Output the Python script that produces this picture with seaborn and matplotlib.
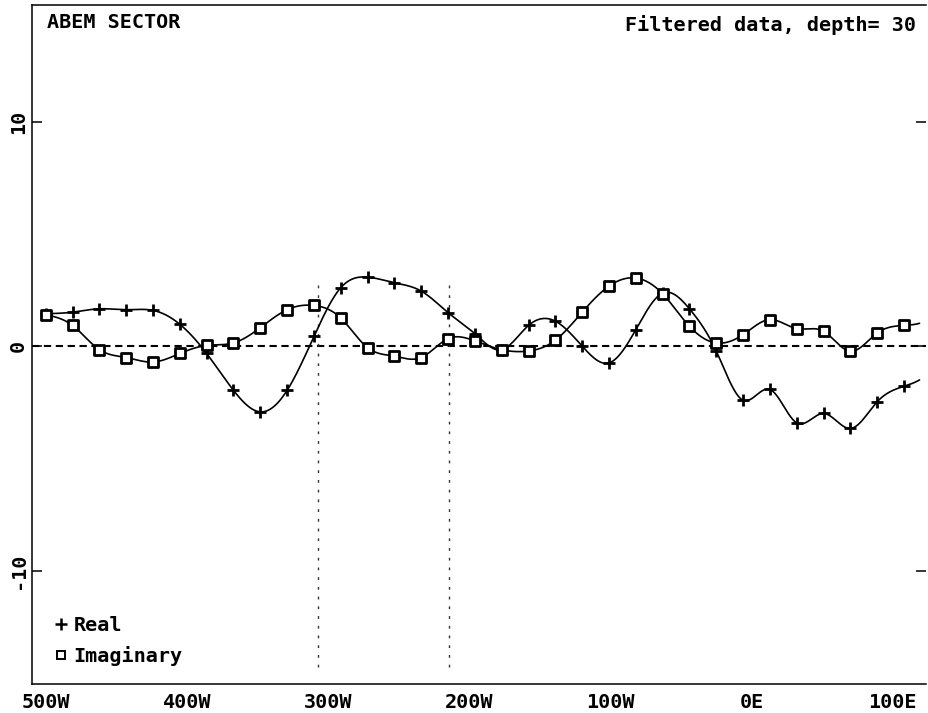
import numpy as np
import pandas as pd
import matplotlib
matplotlib.use("Agg")
import matplotlib.pyplot as plt
from matplotlib.ticker import MultipleLocator, FixedLocator
from matplotlib.lines import Line2D
import seaborn as sns

# station positions (W negative, E positive)
stations = [-500, -481, -462, -443, -424, -405, -386, -367, -348, -329, -310,
            -291, -272, -253, -234, -215, -196, -177, -158, -139, -120, -101,
            -82, -63, -44, -25, -6, 13, 32, 51, 70, 89, 108]

real = [1.45, 1.52, 1.67, 1.63, 1.60, 0.98, -0.32, -1.96, -2.92, -1.96, 0.44,
        2.61, 3.08, 2.83, 2.46, 1.50, 0.56, -0.15, 0.93, 1.12, 0.01, -0.74,
        0.74, 2.37, 1.67, -0.21, -2.40, -1.92, -3.41, -2.99, -3.66, -2.47, -1.78]

imag = [1.41, 0.93, -0.15, -0.50, -0.70, -0.32, 0.04, 0.15, 0.83, 1.63, 1.82,
        1.26, -0.06, -0.44, -0.50, 0.34, 0.24, -0.15, -0.21, 0.27, 1.52, 2.68,
        3.04, 2.34, 0.89, 0.15, 0.52, 1.19, 0.79, 0.67, -0.22, 0.59, 0.93]

xtick_pos = [-500, -400, -300, -200, -100, 0, 100]
xtick_labels = ["500W", "400W", "300W", "200W", "100W", "0E", "100E"]
ytick_pos = [-10, 0, 10]
ytick_labels = ["-10", "0", "10"]

# faint vertical marks on the plot sheet
sheet_marks = [-307, -214]


def natural_spline(x, y, xs):
    x = np.asarray(x, float)
    y = np.asarray(y, float)
    n = len(x)
    h = np.diff(x)
    A = np.zeros((n, n))
    rhs = np.zeros(n)
    A[0, 0] = A[-1, -1] = 1.0
    for i in range(1, n - 1):
        A[i, i - 1] = h[i - 1]
        A[i, i] = 2 * (h[i - 1] + h[i])
        A[i, i + 1] = h[i]
        rhs[i] = 6 * ((y[i + 1] - y[i]) / h[i] - (y[i] - y[i - 1]) / h[i - 1])
    M = np.linalg.solve(A, rhs)
    idx = np.clip(np.searchsorted(x, xs) - 1, 0, n - 2)
    hi = h[idx]
    t1 = x[idx + 1] - xs
    t0 = xs - x[idx]
    return (M[idx] * t1 ** 3 / (6 * hi) + M[idx + 1] * t0 ** 3 / (6 * hi)
            + (y[idx] / hi - M[idx] * hi / 6) * t1
            + (y[idx + 1] / hi - M[idx + 1] * hi / 6) * t0)


sns.set_style("white")
plt.rcParams["font.family"] = ["DejaVu Sans Mono", "DejaVu Sans"]
plt.rcParams["font.weight"] = "bold"
for key in ["text.color", "xtick.color", "ytick.color", "axes.labelcolor"]:
    plt.rcParams[key] = "black"

FS = 14.5

df = pd.DataFrame({"x": stations, "Real": real, "Imaginary": imag})
xs = np.linspace(stations[0], 119, 800)
smooth = pd.DataFrame({"x": xs,
                       "Real": natural_spline(stations, real, xs),
                       "Imaginary": natural_spline(stations, imag, xs)})

fig = plt.figure(figsize=(9.29, 7.13), dpi=100)
ax = fig.add_axes([0.0348, 0.0403, 0.962, 0.9527])

ax.axhline(0, color="black", lw=1.5, ls=(0, (3.5, 2.2)), zorder=1)
for xm in sheet_marks:
    ax.vlines(xm, -14.3, 2.9, color="0.2", lw=1.0, ls=(0, (2, 5)), zorder=1)

sns.lineplot(data=smooth, x="x", y="Real", color="black", lw=1.2, ax=ax, zorder=2)
sns.lineplot(data=smooth, x="x", y="Imaginary", color="black", lw=1.2, ax=ax, zorder=2)
sns.scatterplot(data=df, x="x", y="Real", marker="+", s=75, color="black",
                linewidth=2.0, ax=ax, zorder=3)
sns.scatterplot(data=df, x="x", y="Imaginary", marker="s", s=45, facecolor="white",
                edgecolor="black", linewidth=2.0, ax=ax, zorder=4)

ax.set_xlim(-509.5, 123.6)
ax.set_ylim(-15.05, 15.2)
ax.set_xlabel("")
ax.set_ylabel("")

ax.xaxis.set_major_locator(FixedLocator(xtick_pos))
ax.set_xticklabels(xtick_labels, fontsize=FS, fontweight="bold")
ax.xaxis.set_minor_locator(MultipleLocator(10))
ax.yaxis.set_major_locator(FixedLocator(ytick_pos))
ax.set_yticklabels(ytick_labels, fontsize=FS, fontweight="bold", rotation=90, va="center")

ax.tick_params(axis="x", which="major", direction="in", length=9, width=1.1, pad=6)
ax.tick_params(axis="x", which="minor", direction="in", length=3.5, width=1.0)
ax.tick_params(axis="y", which="major", direction="in", length=7, width=1.1, pad=3,
               right=True, left=True)

for side in ["left", "bottom", "top"]:
    ax.spines[side].set_linewidth(1.1)
    ax.spines[side].set_color("black")
ax.spines["right"].set_visible(False)

ax.text(0.0165, 0.9735, "ABEM SECTOR", transform=ax.transAxes, fontsize=FS,
        fontweight="bold", ha="left", va="center")
ax.text(0.989, 0.9706, "Filtered data, depth= 30", transform=ax.transAxes, fontsize=FS,
        fontweight="bold", ha="right", va="center")

handles = [Line2D([], [], ls="none", marker="+", ms=8, mew=1.8, color="black"),
           Line2D([], [], ls="none", marker="s", ms=6, mew=1.4, mfc="white", mec="black")]
ax.legend(handles, ["Real", "Imaginary"], loc="lower left", bbox_to_anchor=(0.0, 0.0),
          frameon=False, handlelength=1.0, handletextpad=0.15, labelspacing=0.55,
          prop={"family": "DejaVu Sans Mono", "weight": "bold", "size": FS})

fig.savefig("out.png", dpi=100)
